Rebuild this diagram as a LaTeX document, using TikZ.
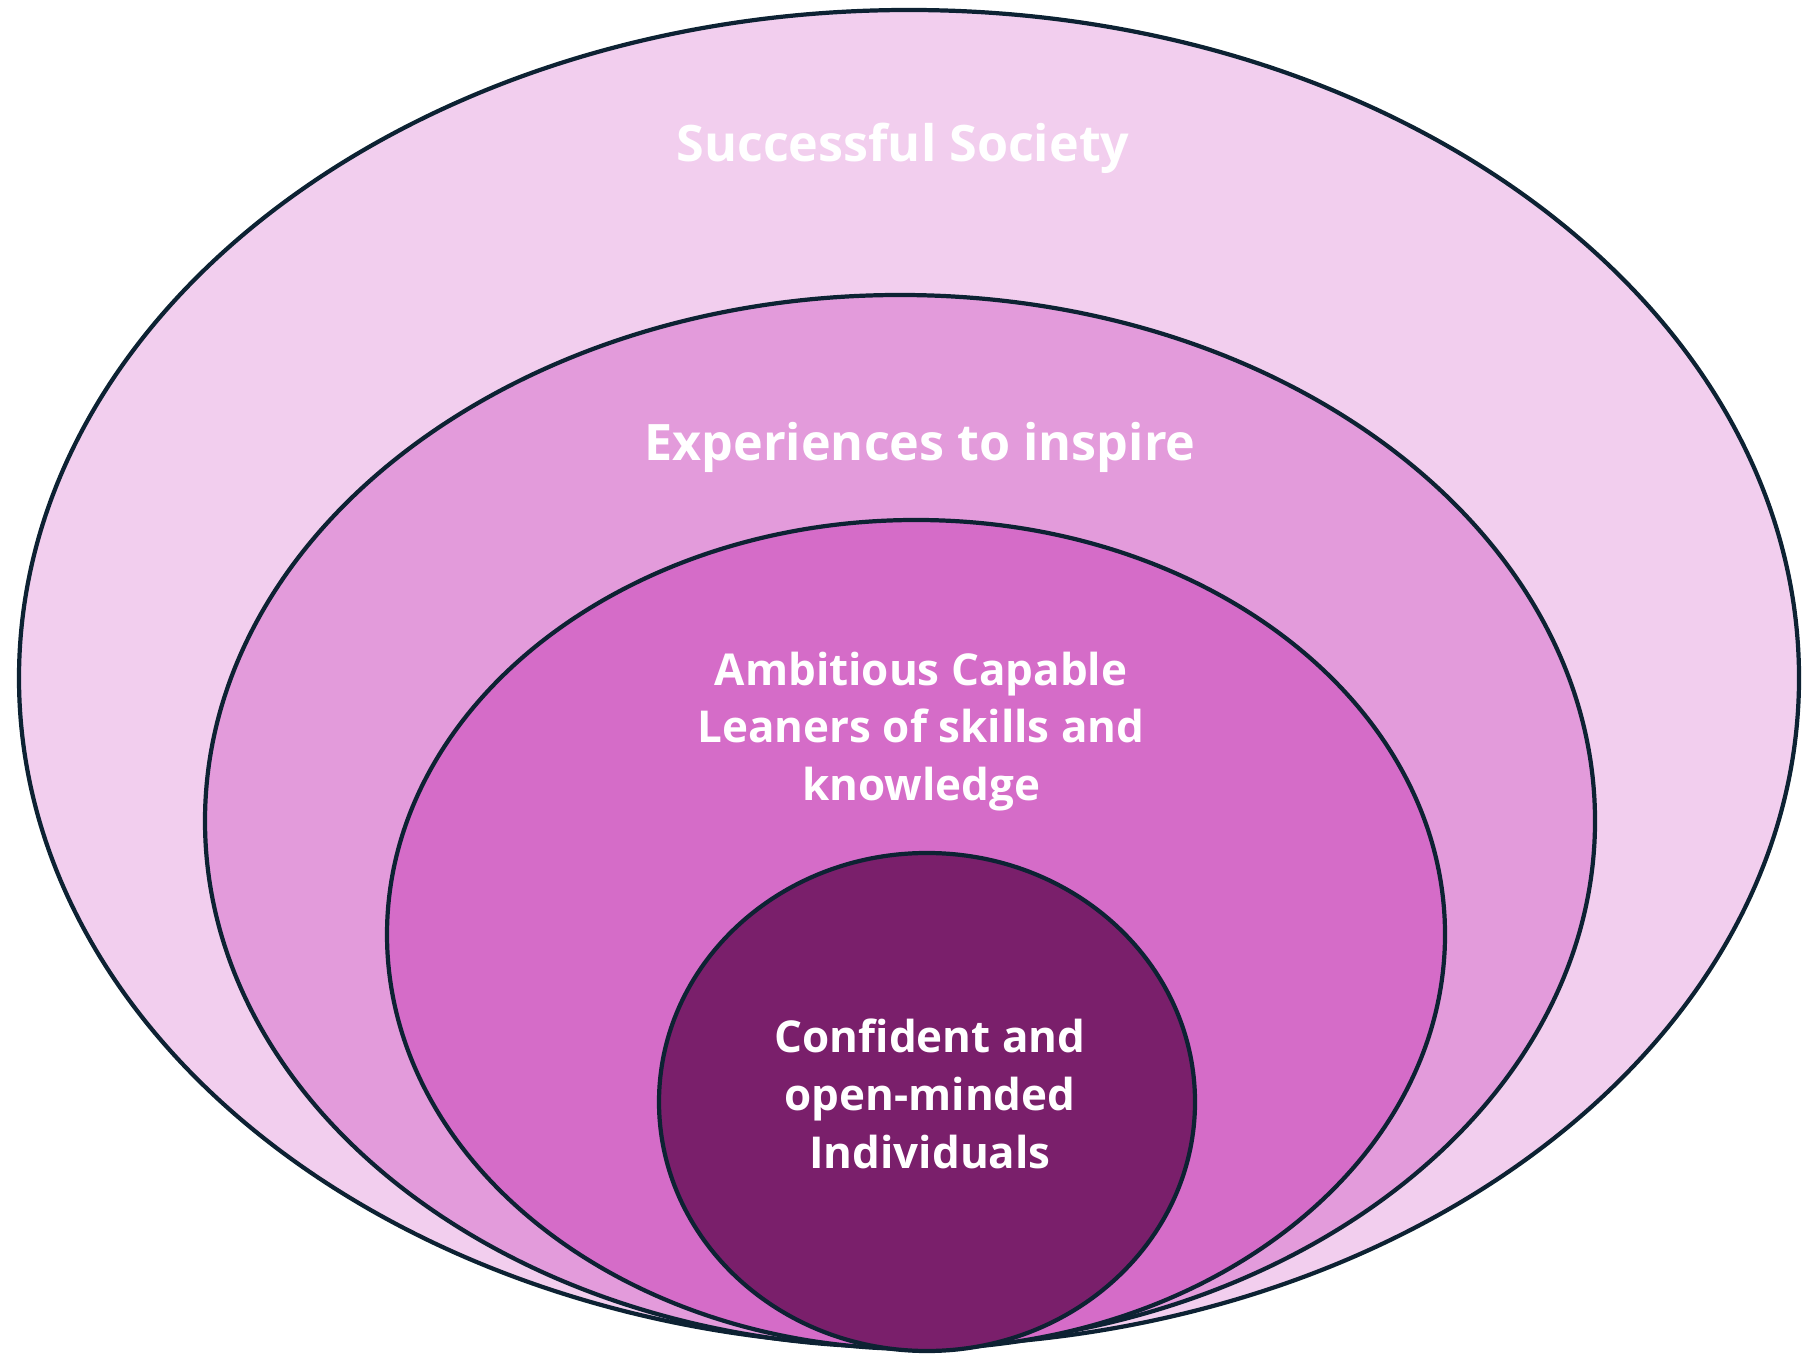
\documentclass[tikz,border=0pt]{standalone}
\usepackage{fontspec}
\setmainfont{Open Sans}
\definecolor{ringA}{HTML}{F2CEEE}
\definecolor{ringB}{HTML}{E39BDB}
\definecolor{ringC}{HTML}{D56CC8}
\definecolor{ringD}{HTML}{7A1F6B}
\definecolor{rim}{HTML}{0D2233}
\tikzset{
  ring/.style={draw=rim,line width=1.2pt},
  biglabel/.style={text=white,font=\fontsize{14.3}{18}\selectfont\bfseries},
  smalllabel/.style={text=white,align=center,font=\fontsize{12.5}{16.4}\selectfont\bfseries}
}
\begin{document}
\begin{tikzpicture}
    \useasboundingbox (0,0) rectangle (18.05,13.54);

    \filldraw[ring,fill=ringA] (9.09,6.76) ellipse [x radius=8.90, y radius=6.68];
    \filldraw[ring,fill=ringB] (9.00,5.33) ellipse [x radius=6.95, y radius=5.26];
    \filldraw[ring,fill=ringC] (9.16,4.195) ellipse [x radius=5.29, y radius=4.145];
    \filldraw[ring,fill=ringD] (9.27,2.52) ellipse [x radius=2.68, y radius=2.49];

    \node[biglabel] (society) at (9.03,12.06) {Successful Society};
    \node[biglabel] (inspire) at (9.20,9.07) {Experiences to inspire};
    \node[smalllabel] (learners) at (9.21,6.225) {Ambitious Capable\\Leaners of skills and\\knowledge};
    \node[smalllabel] (individuals) at (9.30,2.60) {Confident and\\open-minded\\Individuals};
\end{tikzpicture}
\end{document}
